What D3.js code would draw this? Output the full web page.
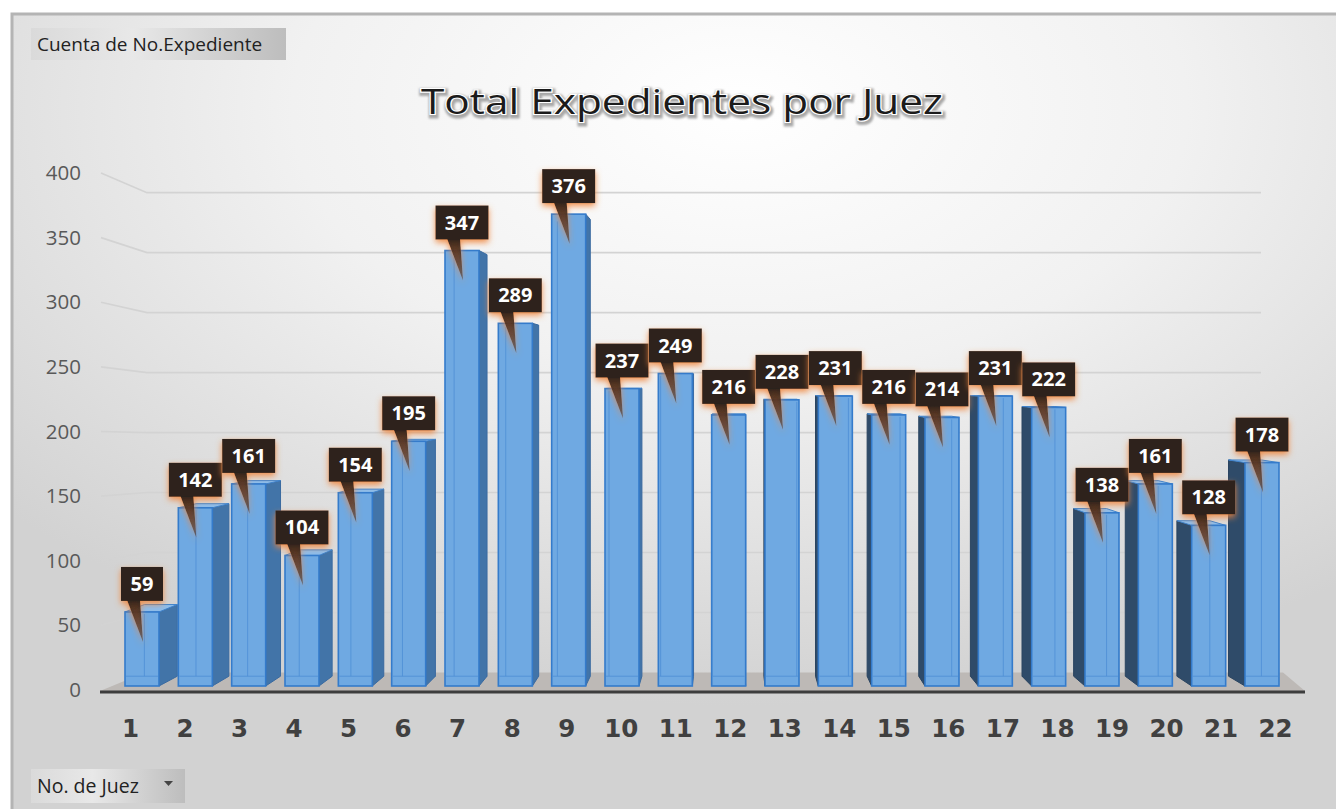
<!DOCTYPE html>
<html>
<head>
<meta charset="utf-8">
<script src="https://cdn.jsdelivr.net/npm/d3@7"></script>
<style>
  html, body { margin: 0; padding: 0; background: #fff; }
  svg { display: block; font-family: 'Open Sans', 'Noto Sans', sans-serif; }
</style>
</head>
<body>
<div class="chart-container"></div>
<script>
// datos
const jueces = ['1','2','3','4','5','6','7','8','9','10','11','12','13','14','15','16','17','18','19','20','21','22'];
const expedientes = [59,142,161,104,154,195,347,289,376,237,249,216,228,231,216,214,231,222,138,161,128,178];
const yTicks = [0,50,100,150,200,250,300,350,400];
const chartTitle = 'Total Expedientes por Juez';
const valueButton = 'Cuenta de No.Expediente';
const axisButton = 'No. de Juez';

// perspectiva simple: punto de fuga y profundidades
const VP = { x: 730, y: 380 };
const BAR_DEPTH = 0.032;
const WALL_DEPTH = 0.044;
const project = (x, y, d) => [x + (VP.x - x) * d, y + (VP.y - y) * d];

function setupCanvas() {
    const svg_width = 1336;
    const svg_height = 809;

    const svg = d3.select('.chart-container').append('svg')
        .attr('width', svg_width).attr('height', svg_height);
    const defs = svg.append('defs');

    // fondo
    const bg = defs.append('radialGradient').attr('id', 'bg')
        .attr('cx', '0.55').attr('cy', '0.12').attr('r', '0.75');
    bg.append('stop').attr('offset', '0%').attr('stop-color', '#ffffff');
    bg.append('stop').attr('offset', '45%').attr('stop-color', '#f1f1f1');
    bg.append('stop').attr('offset', '100%').attr('stop-color', '#d2d2d2');

    const btn = defs.append('linearGradient').attr('id', 'btn');
    btn.append('stop').attr('offset', '0%').attr('stop-color', '#dadada');
    btn.append('stop').attr('offset', '40%').attr('stop-color', '#e8e8e8');
    btn.append('stop').attr('offset', '100%').attr('stop-color', '#bdbdbd');

    const tail = defs.append('linearGradient').attr('id', 'tail')
        .attr('x1', 0).attr('y1', 0).attr('x2', 0).attr('y2', 1);
    tail.append('stop').attr('offset', '0%').attr('stop-color', '#2c221c');
    tail.append('stop').attr('offset', '100%').attr('stop-color', '#2c221c').attr('stop-opacity', 0.55);

    const glow = defs.append('filter').attr('id', 'glow')
        .attr('x', '-30%').attr('y', '-30%').attr('width', '160%').attr('height', '170%');
    glow.append('feDropShadow').attr('dx', 0).attr('dy', 3).attr('stdDeviation', 3)
        .attr('flood-color', '#f0853a').attr('flood-opacity', 0.9);

    const titleBlur = defs.append('filter').attr('id', 'tblur');
    titleBlur.append('feGaussianBlur').attr('stdDeviation', 1.2);

    svg.append('rect').attr('x', 11).attr('y', 13)
        .attr('width', svg_width - 11).attr('height', svg_height - 13)
        .style('fill', 'url(#bg)');
    svg.append('path').attr('d', `M12,${svg_height} L12,14 L${svg_width},14`)
        .style('fill', 'none').style('stroke', '#b4b4b4').style('stroke-width', 3);

    // escalas
    const xLabel = d3.scalePoint().domain(jueces).range([130, 1275]);
    const xFront = d3.scalePoint().domain(jueces).range([142, 1262]);
    const yFront = d3.scaleLinear().domain([0, 400]).range([686, 184]);
    const yLabel = d3.scaleLinear().domain([0, 400]).range([690, 173]);
    const yWall = v => project(0, yFront(v), WALL_DEPTH)[1];
    const barW = 34;

    // lineas de division (pared lateral + pared del fondo)
    svg.append('g').attr('class', 'grid')
        .selectAll('path').data(yTicks.filter(d => d > 0)).enter()
        .append('path')
        .attr('d', d => `M101,${yLabel(d)} L147,${yWall(d)} L1261,${yWall(d)}`)
        .style('fill', 'none').style('stroke', '#d3d3d3').style('stroke-width', 1.6);

    // piso
    const floorBack = yWall(0);
    svg.append('path')
        .attr('d', `M100,691 L145,${floorBack} L1283,${floorBack} L1305,691 Z`)
        .style('fill', '#bdb9b6');

    // barras
    const bars = svg.append('g').attr('class', 'bars')
        .selectAll('g').data(jueces.map((c, i) => ({ juez: c, value: expedientes[i] })))
        .enter().append('g');

    bars.each(function (d) {
        const g = d3.select(this);
        const cx = xFront(d.juez);
        const fl = cx - barW / 2, fr = cx + barW / 2;
        const ft = yFront(d.value), fb = yFront(0);
        const [bl, bt] = project(fl, ft, BAR_DEPTH);
        const br = project(fr, ft, BAR_DEPTH)[0];
        const bb = project(fl, fb, BAR_DEPTH)[1];
        const leftSide = cx < VP.x;

        // cara lateral
        const side = leftSide
            ? [[fr, ft], [br, bt], [br, bb], [fr, fb]]
            : [[fl, ft], [bl, bt], [bl, bb], [fl, fb]];
        g.append('path').attr('d', d3.line()(side) + 'Z')
            .style('fill', leftSide ? '#4274a8' : '#2f4b69')
            .style('stroke', leftSide ? '#3a6aa0' : '#2a4460').style('stroke-width', 1);

        // cara superior (solo si queda bajo el horizonte)
        if (ft > VP.y) {
            g.append('path').attr('d', d3.line()([[fl, ft], [fr, ft], [br, bt], [bl, bt]]) + 'Z')
                .style('fill', '#8dbdec').style('stroke', '#3f83cc').style('stroke-width', 1);
        }

        // cara frontal
        g.append('rect').attr('x', fl).attr('y', ft)
            .attr('width', barW).attr('height', fb - ft)
            .style('fill', '#6fa9e2').style('stroke', '#347bcb').style('stroke-width', 1.6);

        // aristas traseras vistas por transparencia
        const innerX = leftSide ? bl : br;
        g.append('path')
            .attr('d', `M${innerX},${Math.max(bt, ft) + 2} L${innerX},${bb} M${fl + 1},${bb} L${fr - 1},${bb}`)
            .style('fill', 'none').style('stroke', '#4d8fd6').style('stroke-width', 1).style('opacity', 0.8);
    });

    // eje x
    svg.append('line').attr('x1', 100).attr('x2', 1305).attr('y1', 692).attr('y2', 692)
        .style('stroke', '#3d3d3d').style('stroke-width', 3);

    const xAxis = d3.axisBottom(xLabel).tickSize(0).tickPadding(0);
    const xAxisDraw = svg.append('g').attr('class', 'x axis')
        .attr('transform', 'translate(0,720)').call(xAxis);
    xAxisDraw.select('.domain').remove();
    xAxisDraw.selectAll('text')
        .style('font-family', "'DejaVu Sans', sans-serif")
        .style('font-size', '24.5px').style('font-weight', 'bold').style('fill', '#404040');

    // eje y
    const yAxis = d3.axisLeft(yLabel).tickValues(yTicks).tickSize(0).tickPadding(0);
    const yAxisDraw = svg.append('g').attr('class', 'y axis')
        .attr('transform', 'translate(81,0)').call(yAxis);
    yAxisDraw.select('.domain').remove();
    yAxisDraw.selectAll('text')
        .style('font-family', "'Open Sans', sans-serif")
        .style('font-size', '20.5px').style('fill', '#595959');

    // etiquetas de datos tipo globo
    const labels = svg.append('g').attr('class', 'data-labels')
        .selectAll('g').data(jueces.map((c, i) => ({ juez: c, value: expedientes[i] })))
        .enter().append('g')
        .attr('transform', d => `translate(${xFront(d.juez)},${yFront(d.value)})`);

    labels.each(function (d) {
        const g = d3.select(this);
        const txt = String(d.value);
        const w = txt.length === 2 ? 42 : 53;
        const boxBottom = -11, boxH = 34;
        const callout = g.append('g').attr('filter', 'url(#glow)');
        callout.append('path')
            .attr('d', `M-15,${boxBottom - 1} L-2,${boxBottom - 1} L1,30 Z`)
            .style('fill', 'url(#tail)');
        callout.append('rect')
            .attr('x', -w / 2).attr('y', boxBottom - boxH)
            .attr('width', w).attr('height', boxH)
            .style('fill', '#2d231d');
        g.append('text').text(txt)
            .attr('x', 0).attr('y', boxBottom - boxH / 2 + 7)
            .style('text-anchor', 'middle')
            .style('font-size', '20px').style('font-weight', 'bold')
            .style('fill', '#ffffff');
    });

    // titulo con relieve
    const title = svg.append('g').attr('class', 'title');
    title.append('text').text(chartTitle)
        .attr('x', 682).attr('y', 114)
        .attr('textLength', 522).attr('lengthAdjust', 'spacingAndGlyphs')
        .style('text-anchor', 'middle').style('font-size', '34px')
        .style('fill', '#9a9a9a').style('stroke', '#a8a8a8').style('stroke-width', 5)
        .attr('filter', 'url(#tblur)').attr('transform', 'translate(1,1.5)');
    title.append('text').text(chartTitle)
        .attr('x', 682).attr('y', 114)
        .attr('textLength', 522).attr('lengthAdjust', 'spacingAndGlyphs')
        .style('text-anchor', 'middle').style('font-size', '34px')
        .style('fill', '#1b1b1b').style('stroke', '#ffffff').style('stroke-width', 2.2)
        .style('paint-order', 'stroke');

    // botones del grafico dinamico
    svg.append('rect').attr('x', 31).attr('y', 28).attr('width', 255).attr('height', 32)
        .style('fill', 'url(#btn)');
    svg.append('text').text(valueButton).attr('x', 37).attr('y', 51)
        .style('font-size', '19px').style('fill', '#222');

    svg.append('rect').attr('x', 31).attr('y', 769).attr('width', 154).attr('height', 34)
        .style('fill', 'url(#btn)');
    svg.append('text').text(axisButton).attr('x', 37).attr('y', 793)
        .style('font-size', '19.5px').style('fill', '#222');
    svg.append('path').attr('d', 'M164,781 L173,781 L168.5,786 Z').style('fill', '#444');
}

function ready() {
    setupCanvas();
}

ready();
</script>
</body>
</html>
